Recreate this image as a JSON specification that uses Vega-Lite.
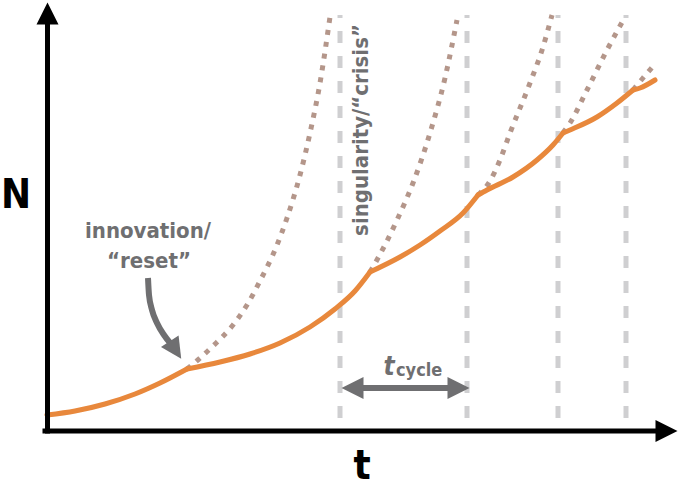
{
  "$schema": "https://vega.github.io/schema/vega-lite/v6.json",
  "width": 682,
  "height": 488,
  "autosize": {"type": "fit", "contains": "padding"},
  "padding": 0,
  "background": "white",
  "config": {"view": {"stroke": null}},
  "datasets": {
    "cycles": [
      {"t": 340, "N": 70, "N2": 473},
      {"t": 467, "N": 70, "N2": 473},
      {"t": 558, "N": 70, "N2": 473},
      {"t": 626, "N": 70, "N2": 473}
    ],
    "runaway": [
      {"branch": "d1", "t": 187, "N": 119}, {"branch": "d1", "t": 200, "N": 130},
      {"branch": "d1", "t": 213, "N": 142}, {"branch": "d1", "t": 233, "N": 163},
      {"branch": "d1", "t": 247, "N": 183}, {"branch": "d1", "t": 260, "N": 207},
      {"branch": "d1", "t": 277, "N": 243}, {"branch": "d1", "t": 287, "N": 270},
      {"branch": "d1", "t": 300, "N": 313}, {"branch": "d1", "t": 310, "N": 355},
      {"branch": "d1", "t": 320, "N": 405}, {"branch": "d1", "t": 330, "N": 471},
      {"branch": "d2", "t": 370, "N": 216}, {"branch": "d2", "t": 378, "N": 230},
      {"branch": "d2", "t": 386, "N": 245}, {"branch": "d2", "t": 397, "N": 268},
      {"branch": "d2", "t": 413, "N": 305}, {"branch": "d2", "t": 430, "N": 355},
      {"branch": "d2", "t": 445, "N": 410}, {"branch": "d2", "t": 457, "N": 468},
      {"branch": "d3", "t": 478, "N": 293}, {"branch": "d3", "t": 490, "N": 307},
      {"branch": "d3", "t": 500, "N": 328}, {"branch": "d3", "t": 510, "N": 355},
      {"branch": "d3", "t": 530, "N": 405}, {"branch": "d3", "t": 543, "N": 441},
      {"branch": "d3", "t": 552, "N": 473},
      {"branch": "d4", "t": 563, "N": 355}, {"branch": "d4", "t": 570, "N": 365},
      {"branch": "d4", "t": 587, "N": 398}, {"branch": "d4", "t": 607, "N": 438},
      {"branch": "d4", "t": 625, "N": 471},
      {"branch": "d5", "t": 633, "N": 398}, {"branch": "d5", "t": 643, "N": 410},
      {"branch": "d5", "t": 655, "N": 424}
    ],
    "growth": [
      {"seg": "s0", "t": 47, "N": 73}, {"seg": "s0", "t": 75, "N": 77},
      {"seg": "s0", "t": 105, "N": 84}, {"seg": "s0", "t": 135, "N": 94},
      {"seg": "s0", "t": 160, "N": 105}, {"seg": "s0", "t": 187, "N": 119},
      {"seg": "s1", "t": 187, "N": 119}, {"seg": "s1", "t": 220, "N": 126},
      {"seg": "s1", "t": 250, "N": 134}, {"seg": "s1", "t": 280, "N": 145},
      {"seg": "s1", "t": 310, "N": 161}, {"seg": "s1", "t": 335, "N": 179},
      {"seg": "s1", "t": 355, "N": 197}, {"seg": "s1", "t": 370, "N": 216},
      {"seg": "s2", "t": 370, "N": 216}, {"seg": "s2", "t": 400, "N": 231},
      {"seg": "s2", "t": 420, "N": 243}, {"seg": "s2", "t": 440, "N": 257},
      {"seg": "s2", "t": 463, "N": 275}, {"seg": "s2", "t": 478, "N": 293},
      {"seg": "s3", "t": 478, "N": 293}, {"seg": "s3", "t": 487, "N": 298},
      {"seg": "s3", "t": 513, "N": 311}, {"seg": "s3", "t": 537, "N": 328},
      {"seg": "s3", "t": 553, "N": 343}, {"seg": "s3", "t": 563, "N": 355},
      {"seg": "s4", "t": 563, "N": 355}, {"seg": "s4", "t": 570, "N": 358},
      {"seg": "s4", "t": 597, "N": 371}, {"seg": "s4", "t": 617, "N": 385},
      {"seg": "s4", "t": 633, "N": 398},
      {"seg": "s5", "t": 633, "N": 398}, {"seg": "s5", "t": 640, "N": 400},
      {"seg": "s5", "t": 655, "N": 408}
    ],
    "pointer": [
      {"t": 148, "N": 210}, {"t": 149, "N": 193}, {"t": 152, "N": 178},
      {"t": 157, "N": 165}, {"t": 164, "N": 153}, {"t": 171, "N": 144}
    ]
  },
  "encoding": {
    "x": {"field": "t", "type": "quantitative", "scale": {"domain": [0, 682], "nice": false, "zero": false}, "axis": null},
    "y": {"field": "N", "type": "quantitative", "scale": {"domain": [0, 488], "nice": false, "zero": false}, "axis": null}
  },
  "layer": [
    {
      "data": {"name": "cycles"},
      "mark": {"type": "rule", "color": "#cfcfd1", "strokeWidth": 5, "strokeDash": [12, 13]},
      "encoding": {"y2": {"field": "N2"}}
    },
    {
      "data": {"name": "runaway"},
      "mark": {"type": "line", "color": "#b4968a", "strokeWidth": 5, "strokeDash": [5, 7], "interpolate": "monotone"},
      "encoding": {"detail": {"field": "branch"}}
    },
    {
      "data": {"name": "growth"},
      "mark": {"type": "line", "color": "#e8883c", "strokeWidth": 5, "strokeCap": "round", "interpolate": "monotone"},
      "encoding": {"detail": {"field": "seg"}}
    },
    {
      "data": {"values": [{"t": 45, "t2": 660, "N": 57, "N2": 57}, {"t": 47.5, "t2": 47.5, "N": 57, "N2": 472}]},
      "mark": {"type": "rule", "color": "black", "strokeWidth": 5, "strokeCap": "square"},
      "encoding": {"x2": {"field": "t2"}, "y2": {"field": "N2"}}
    },
    {
      "data": {"values": [{"t": 47.5, "N": 474.5}]},
      "mark": {"type": "point", "shape": "M0,-1L1,1L-1,1Z", "size": 484, "filled": true, "color": "black", "opacity": 1},
      "encoding": {}
    },
    {
      "data": {"values": [{"t": 666.5, "N": 57}]},
      "mark": {"type": "point", "shape": "M0,-1L1,1L-1,1Z", "size": 484, "angle": 90, "filled": true, "color": "black", "opacity": 1},
      "encoding": {}
    },
    {
      "data": {"name": "pointer"},
      "mark": {"type": "line", "color": "#6f6f71", "strokeWidth": 6, "interpolate": "monotone"},
      "encoding": {"order": {"field": "N", "sort": "descending"}}
    },
    {
      "data": {"values": [{"t": 175.5, "N": 138}]},
      "mark": {"type": "point", "shape": "M0,-1L1,1L-1,1Z", "size": 441, "angle": 147, "filled": true, "color": "#6f6f71", "opacity": 1},
      "encoding": {}
    },
    {
      "data": {"values": [{"t": 356, "t2": 455, "N": 100}]},
      "mark": {"type": "rule", "color": "#6f6f71", "strokeWidth": 6},
      "encoding": {"x2": {"field": "t2"}}
    },
    {
      "data": {"values": [{"t": 352.5, "N": 100}]},
      "mark": {"type": "point", "shape": "M0,-1L1,1L-1,1Z", "size": 484, "angle": 270, "filled": true, "color": "#6f6f71", "opacity": 1},
      "encoding": {}
    },
    {
      "data": {"values": [{"t": 458.5, "N": 100}]},
      "mark": {"type": "point", "shape": "M0,-1L1,1L-1,1Z", "size": 484, "angle": 90, "filled": true, "color": "#6f6f71", "opacity": 1},
      "encoding": {}
    },
    {
      "data": {"values": [{"label": "N", "t": 16, "N": 280}]},
      "mark": {"type": "text", "font": "Liberation Sans Narrow, DejaVu Sans Condensed, sans-serif", "fontSize": 40, "fontWeight": "bold", "color": "black", "align": "center", "baseline": "alphabetic"},
      "encoding": {"text": {"field": "label"}}
    },
    {
      "data": {"values": [{"label": "t", "t": 362, "N": 1}]},
      "mark": {"type": "text", "font": "Liberation Sans Narrow, DejaVu Sans Condensed, sans-serif", "fontSize": 40, "fontWeight": "bold", "color": "black", "align": "center", "baseline": "bottom"},
      "encoding": {"text": {"field": "label"}}
    },
    {
      "data": {"values": [{"label": "innovation/", "t": 148, "N": 250}, {"label": "“reset”", "t": 149, "N": 220}]},
      "mark": {"type": "text", "font": "Liberation Sans Narrow, DejaVu Sans Condensed, sans-serif", "fontSize": 22, "fontWeight": "bold", "color": "#6f6f71", "align": "center", "baseline": "alphabetic"},
      "encoding": {"text": {"field": "label"}}
    },
    {
      "data": {"values": [{"label": "singularity/“crisis”", "t": 368, "N": 358}]},
      "mark": {"type": "text", "font": "Liberation Sans Narrow, DejaVu Sans Condensed, sans-serif", "fontSize": 22, "fontWeight": "bold", "color": "#6f6f71", "align": "center", "baseline": "alphabetic", "angle": 270},
      "encoding": {"text": {"field": "label"}}
    },
    {
      "data": {"values": [{"label": "t", "t": 389, "N": 113}]},
      "mark": {"type": "text", "font": "Liberation Sans Narrow, DejaVu Sans Condensed, sans-serif", "fontSize": 26, "fontWeight": "bold", "fontStyle": "italic", "color": "#6f6f71", "align": "center", "baseline": "alphabetic"},
      "encoding": {"text": {"field": "label"}}
    },
    {
      "data": {"values": [{"label": "cycle", "t": 396, "N": 112}]},
      "mark": {"type": "text", "font": "Liberation Sans Narrow, DejaVu Sans Condensed, sans-serif", "fontSize": 18, "fontWeight": "bold", "color": "#6f6f71", "align": "left", "baseline": "alphabetic"},
      "encoding": {"text": {"field": "label"}}
    }
  ]
}
